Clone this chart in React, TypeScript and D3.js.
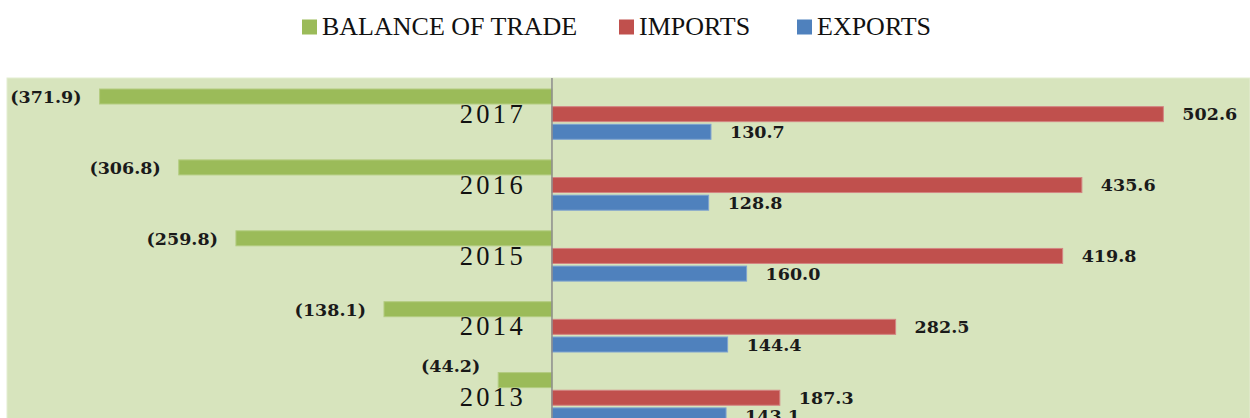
import React from "react";
import * as d3 from "d3";

const years = ["2017", "2016", "2015", "2014", "2013"];
const balance = [-371.9, -306.8, -259.8, -138.1, -44.2];
const imports = [502.6, 435.6, 419.8, 282.5, 187.3];
const exportsV = [130.7, 128.8, 160.0, 144.4, 143.1];
const seriesNames = ["BALANCE OF TRADE", "IMPORTS", "EXPORTS"];
const seriesKeys = ["balance", "imports", "exports"];

const W = 1250;
const H = 418;
const COLORS: Record<string, string> = { balance: "#9BBB59", imports: "#C0504D", exports: "#4F81BD" };
const STROKES: Record<string, string> = { balance: "#B3CC80", imports: "#D38583", exports: "#7FA3D0" };

function fmt(v: number) {
  const s = Math.abs(v).toFixed(1);
  return v < 0 ? `(${s})` : s;
}

export default function App() {
  const plotTop = 78;
  const x = d3.scaleLinear().domain([-448, 573]).range([7, 1249]);
  const step = 70.9;
  const y = d3.scaleBand<string>().domain(years).range([78.7, 78.7 + step * years.length]).paddingInner(0);
  const sub = d3.scaleBand<string>().domain(seriesKeys).range([10.3, 60.6]).paddingInner(0.15);
  const values: Record<string, number[]> = { balance, imports, exports: exportsV };
  const x0 = x(0);

  const legendPos = [302, 619, 797];
  const labelFont = "'DejaVu Serif', serif";

  return (
    <svg width={W} height={H} style={{ position: "absolute", left: 0, top: 0, background: "#fff" }}>
      {/* legend */}
      {seriesKeys.map((k, i) => (
        <g key={k}>
          <rect x={legendPos[i]} y={19.5} width={15} height={15} fill={COLORS[k]} />
          <text x={legendPos[i] + 20} y={35} fontFamily="'Liberation Serif', serif" fontSize={26} fill="#111">
            {seriesNames[i]}
          </text>
        </g>
      ))}
      {/* plot area */}
      <rect x={7} y={plotTop} width={W - 7} height={H - plotTop + 20} fill="#D7E4BD" stroke="#E4EDD2" strokeWidth={1} />
      {/* bars */}
      {years.map((yr, i) => (
        <g key={yr}>
          {seriesKeys.map((k) => {
            const v = values[k][i];
            const by = (y(yr) as number) + (sub(k) as number);
            const bh = sub.bandwidth();
            const xa = x(Math.min(0, v));
            const xb = x(Math.max(0, v));
            return (
              <rect key={k} x={xa} y={by} width={xb - xa} height={bh} fill={COLORS[k]} stroke={STROKES[k]} strokeWidth={1} />
            );
          })}
        </g>
      ))}
      {/* axis */}
      <line x1={x0} x2={x0} y1={plotTop} y2={H} stroke="#8C8C8C" strokeWidth={1.5} />
      {/* year labels */}
      {years.map((yr) => (
        <text
          key={yr}
          x={x0 - 26}
          y={(y(yr) as number) + 44}
          textAnchor="end"
          fontFamily="'Liberation Serif', serif"
          fontSize={26.5}
          letterSpacing={3.3}
          fill="#111"
        >
          {yr}
        </text>
      ))}
      {/* data labels */}
      {years.map((yr, i) => (
        <g key={yr}>
          {seriesKeys.map((k) => {
            const v = values[k][i];
            const by = (y(yr) as number) + (sub(k) as number) + sub.bandwidth() / 2;
            const xe = x(v);
            const neg = v < 0;
            const lift = neg && xe > 460 ? -14 : 0;
            return (
              <text
                key={k}
                x={neg ? xe - 18 : xe + 19}
                y={by + lift}
                dy="0.36em"
                textAnchor={neg ? "end" : "start"}
                fontFamily={labelFont}
                fontWeight="bold"
                fontSize={17.5}
                fill="#1a1a1a"
              >
                {fmt(v)}
              </text>
            );
          })}
        </g>
      ))}
    </svg>
  );
}
